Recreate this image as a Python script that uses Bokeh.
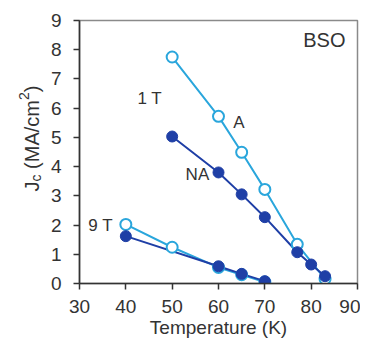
from bokeh.plotting import figure
from bokeh.models import Range1d, FixedTicker, Label
from bokeh.layouts import row
from bokeh.embed import file_html
from bokeh.resources import INLINE
import math

# Data
t_1T_A = [50, 60, 65, 70, 77, 83]
jc_1T_A = [7.75, 5.72, 4.49, 3.22, 1.34, 0.15]
t_1T_NA = [50, 60, 65, 70, 77, 80, 83]
jc_1T_NA = [5.03, 3.80, 3.05, 2.27, 1.07, 0.65, 0.25]
t_9T_A = [40, 50, 60, 65, 70]
jc_9T_A = [2.02, 1.24, 0.55, 0.30, 0.05]
t_9T_NA = [40, 60, 65, 70]
jc_9T_NA = [1.62, 0.59, 0.33, 0.08]

x_ticks = [30, 40, 50, 60, 70, 80, 90]
y_ticks = [0, 1, 2, 3, 4, 5, 6, 7, 8, 9]

LIGHT = "#2aa6dc"
DARK = "#1f3fa6"
FONT = "Liberation Sans"
TXT = "#333333"
H = 344
LW = 46

p = figure(width=360 - LW, height=H, output_backend="svg", toolbar_location=None,
           x_range=Range1d(30, 90), y_range=Range1d(0, 9),
           min_border_left=79 - LW, min_border_right=3, min_border_top=20, min_border_bottom=H - 283)
p.grid.visible = False
p.background_fill_color = "white"
p.border_fill_color = "white"
p.outline_line_color = "#8a8a8a"
p.outline_line_width = 1.5

for ax in (p.xaxis, p.yaxis):
    ax.axis_line_color = TXT
    ax.axis_line_width = 1.6
    ax.major_tick_line_color = TXT
    ax.major_tick_line_width = 1.5
    ax.major_tick_out = 6
    ax.major_tick_in = 0
    ax.minor_tick_line_color = None
    ax.major_label_text_font = FONT
    ax.major_label_text_font_size = "19px"
    ax.major_label_text_color = TXT
p.xaxis.ticker = FixedTicker(ticks=x_ticks)
p.yaxis.ticker = FixedTicker(ticks=y_ticks)
p.xaxis.major_label_standoff = 10
p.yaxis.major_label_standoff = 12
p.xaxis.axis_label = "Temperature (K)"
p.xaxis.axis_label_text_font = FONT
p.xaxis.axis_label_text_font_size = "19px"
p.xaxis.axis_label_text_font_style = "normal"
p.xaxis.axis_label_text_color = TXT
p.xaxis.axis_label_standoff = 1

# lines
p.line(t_1T_A, jc_1T_A, line_color=LIGHT, line_width=2)
p.line(t_9T_A, jc_9T_A, line_color=LIGHT, line_width=2)
p.line(t_1T_NA, jc_1T_NA, line_color=DARK, line_width=2)
p.line(t_9T_NA, jc_9T_NA, line_color=DARK, line_width=2)
# markers
p.scatter(t_1T_A, jc_1T_A, size=11, fill_color="white", line_color=LIGHT, line_width=2)
p.scatter(t_9T_A, jc_9T_A, size=11, fill_color="white", line_color=LIGHT, line_width=2)
p.scatter(t_1T_NA, jc_1T_NA, size=11, fill_color=DARK, line_color=DARK, line_width=1)
p.scatter(t_9T_NA, jc_9T_NA, size=11, fill_color=DARK, line_color=DARK, line_width=1)

def lab(x, y, t, size="17px", align="left"):
    p.add_layout(Label(x=x, y=y, text=t, text_font=FONT, text_font_size=size,
                       text_color=TXT, text_align=align, text_baseline="middle"))

lab(42.5, 6.33, "1 T")
lab(63.2, 5.5, "A")
lab(52.9, 3.73, "NA")
lab(31.9, 1.98, "9 T")
lab(87.4, 8.32, "BSO", size="20px", align="right")

# y-axis label in a narrow side figure (screen pixels)
q = figure(width=LW, height=H, output_backend="svg", toolbar_location=None,
           x_range=Range1d(0, LW), y_range=Range1d(0, H),
           min_border_left=0, min_border_right=0, min_border_top=0, min_border_bottom=0)
q.axis.visible = False
q.grid.visible = False
q.outline_line_color = None
q.background_fill_color = "white"
q.border_fill_color = "white"

bx = 31
ycur = 340 - 192 - 56
pieces = [("J", 20, 0, 0.5), ("c", 14, 4, 0.5 + 0.278 * 20 / 14), ("(MA/cm", 20, 0, 3.444),
          ("2", 14, -8, 0.556), (")", 20, 0, 0.333)]
for t, fs, dx, em in pieces:
    q.add_layout(Label(x=bx + dx, y=ycur, x_units="screen", y_units="screen", text=t,
                       angle=math.pi / 2, text_font=FONT, text_font_size=f"{fs}px",
                       text_color=TXT, text_align="left", text_baseline="alphabetic"))
    ycur += fs * em

layout = row(q, p, spacing=0)
open("out.html", "w").write(file_html(layout, INLINE))
